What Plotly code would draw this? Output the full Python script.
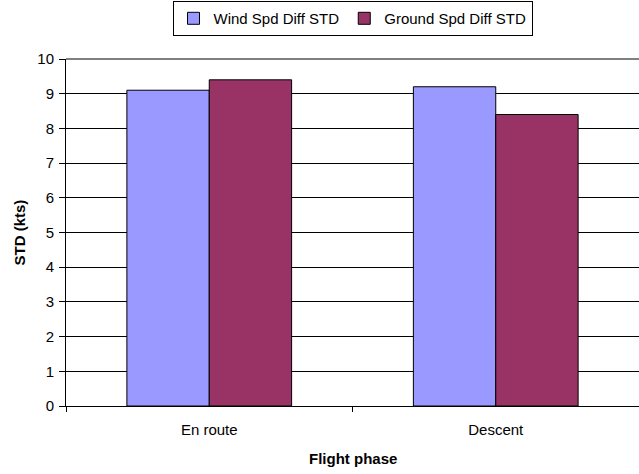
import plotly.graph_objects as go

categories = ["En route", "Descent"]
wind_std = [9.1, 9.2]
ground_std = [9.4, 8.4]
series_names = ["Wind Spd Diff STD", "Ground Spd Diff STD"]

FONT = "Liberation Sans, Arial, sans-serif"

fig = go.Figure()
fig.add_trace(go.Bar(x=categories, y=wind_std, name=series_names[0],
                     marker=dict(color="#9999FF", line=dict(color="black", width=1))))
fig.add_trace(go.Bar(x=categories, y=ground_std, name=series_names[1],
                     marker=dict(color="#993366", line=dict(color="black", width=1))))

fig.update_layout(
    width=639, height=474,
    margin=dict(l=66, r=0, t=59, b=68),
    paper_bgcolor="white", plot_bgcolor="white",
    font=dict(family=FONT, size=15, color="black"),
    barmode="group", bargap=0.425, bargroupgap=0,
    showlegend=True,
    legend=dict(orientation="h", x=0.5, xanchor="center", y=1.167, yanchor="top",
                bordercolor="black", borderwidth=1, font=dict(size=15),
                itemwidth=30, tracegroupgap=0, valign="middle"),
    xaxis=dict(showline=True, linecolor="black", linewidth=1, ticks="outside",
               tickson="boundaries", ticklen=5, tickcolor="black", showgrid=False,
               tickfont=dict(size=15), ticklabelstandoff=10),
    yaxis=dict(range=[0, 10], dtick=1, showline=True, linecolor="black", linewidth=1,
               ticks="outside", ticklen=6, tickcolor="black", showgrid=True,
               gridcolor="black", gridwidth=1, zeroline=False, tickfont=dict(size=15),
               ticklabelstandoff=2),
    annotations=[
        dict(text="<b>STD (kts)</b>", x=(19 - 66) / (639 - 66), xref="paper", y=0.5,
             yref="paper", showarrow=False, textangle=-90, font=dict(size=15),
             xanchor="center", yanchor="middle"),
        dict(text="<b>Flight phase</b>", x=0.5, xref="paper", y=-0.152, yref="paper",
             showarrow=False, font=dict(size=15), xanchor="center", yanchor="middle"),
    ],
    shapes=[dict(type="line", xref="paper", yref="paper", x0=0, x1=1, y0=1, y1=1,
                 line=dict(color="#808080", width=2), layer="above")],
)

fig.write_html("out.html")
